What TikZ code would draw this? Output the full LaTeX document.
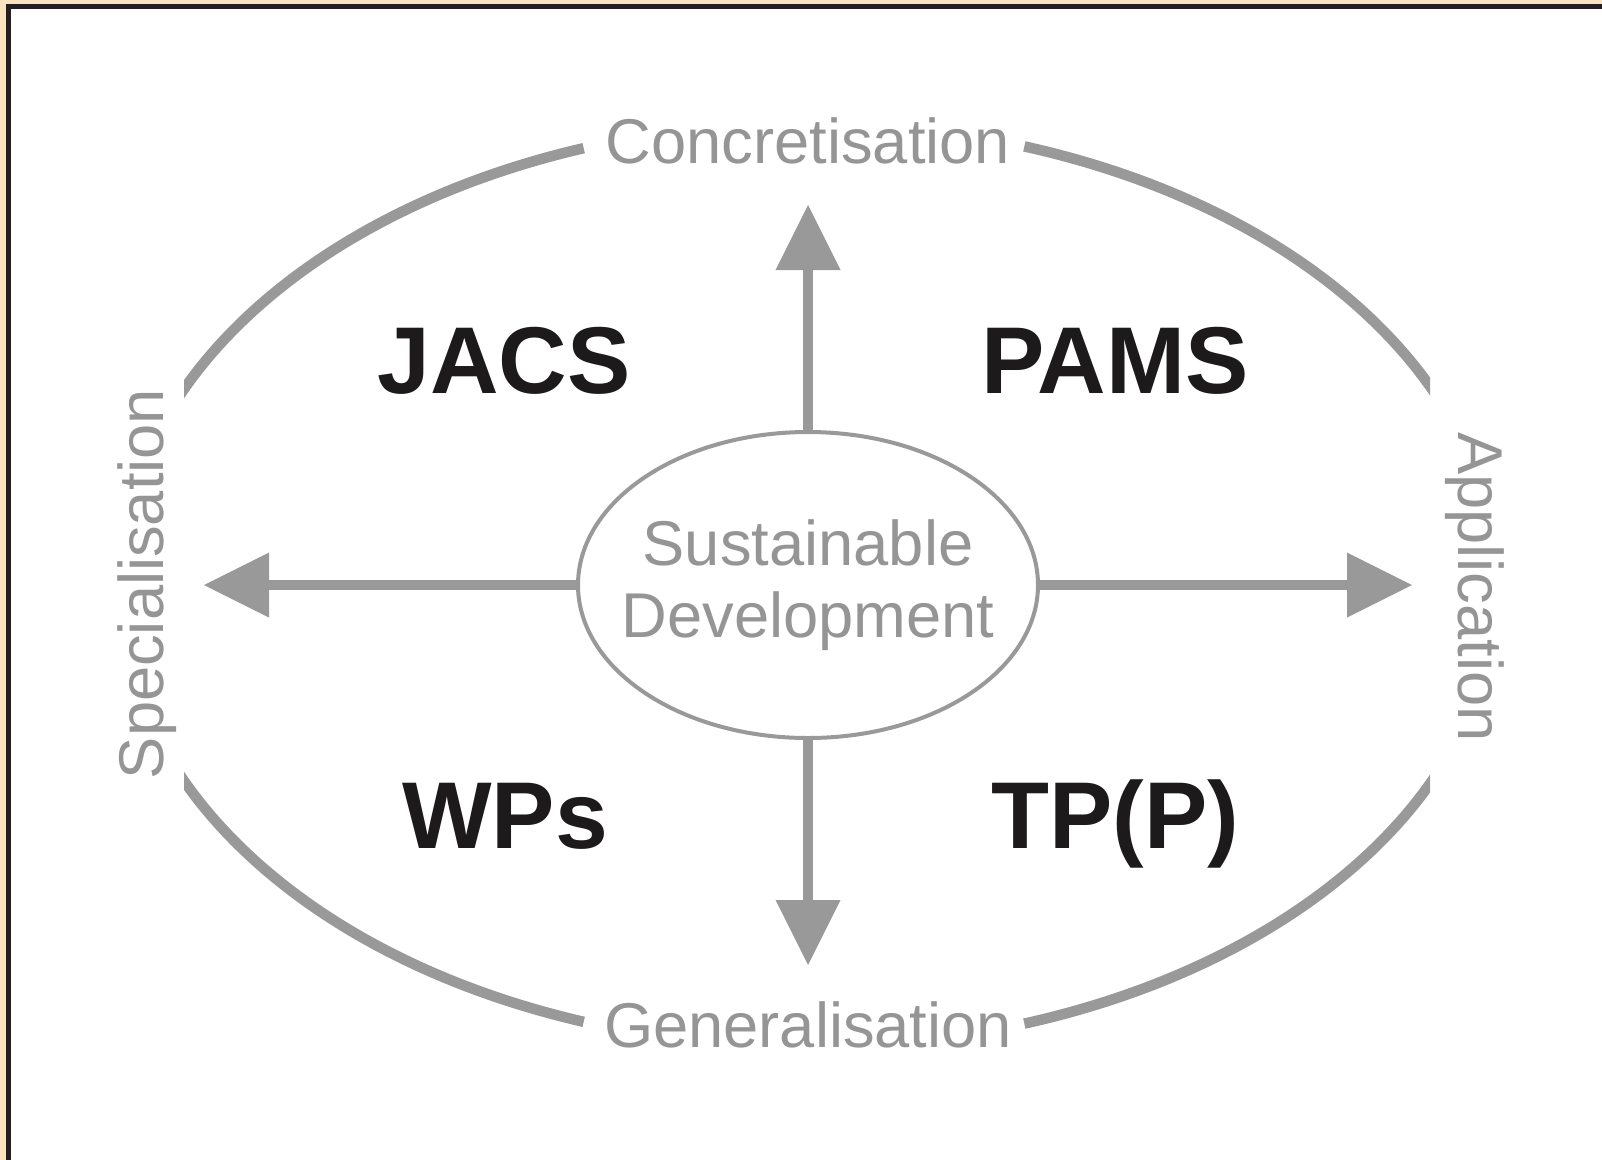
\documentclass[tikz,border=0pt]{standalone}
\usepackage{fontspec}
\setmainfont{Liberation Sans}
\usepackage{xcolor}
\usetikzlibrary{shapes.geometric, arrows.meta}
\usetikzlibrary{positioning}
\definecolor{paper}{HTML}{F9E3C1}
\definecolor{frameline}{HTML}{231F20}
\definecolor{axisgray}{HTML}{999999}
\definecolor{textgray}{HTML}{959595}
\definecolor{inkblack}{HTML}{1C1A1A}
\tikzstyle{hub} = [ellipse, draw=axisgray, line width=0.8mm, minimum width=92mm, minimum height=61.2mm, inner sep=0pt]
\tikzstyle{axis} = [draw=axisgray, line width=2mm, -{Triangle[length=13mm, width=13mm, line width=0pt]}]
\tikzstyle{rim} = [draw=axisgray, line width=2.1mm]
\tikzstyle{quad} = [font=\fontsize{54}{60}\selectfont\bfseries, text=inkblack, inner sep=0pt, anchor=base]
\tikzstyle{pole} = [font=\fontsize{36}{40}\selectfont, text=textgray, inner sep=0pt, anchor=base]

\begin{document}
\begin{tikzpicture}[x=0.2mm, y=-0.2mm]
      \useasboundingbox (0,0) rectangle (1602,1160);
      % frame
      \fill[paper] (0,0) rectangle (1602,1160);
      \fill[frameline] (6,4) rectangle (1602,1160);
      \fill[white] (11,9) rectangle (1602,1160);

      % outer ring, open at the four labels
      \coordinate (ring) at (808,585);
      \begin{scope}
        \clip (184,0) rectangle (1430,1160);
        \draw [rim] (ring) ++(109:689 and 462) arc[start angle=109, end angle=251, x radius=689, y radius=462];
        \draw [rim] (ring) ++(-71.7:689 and 462) arc[start angle=-71.7, end angle=71.7, x radius=689, y radius=462];
      \end{scope}

      \node (sd) [hub] at (808,585) {};
      \node (sdtext) [align=center, font=\fontsize{36}{40.7}\selectfont, text=textgray] at (sd.center) {Sustainable\\Development};

      \coordinate (tipup) at (808,205);
      \coordinate (tipdown) at (808,965);
      \coordinate (tipleft) at (204,585);
      \coordinate (tipright) at (1412,585);
      \draw [axis] (sd.north) -- (tipup);
      \draw [axis] (sd.south) -- (tipdown);
      \draw [axis] (sd.west) -- (tipleft);
      \draw [axis] (sd.east) -- (tipright);

      \node (concr) [pole] at (808,163) {Concretisation};
      \node (gener) [pole] at (808,1047) {Generalisation};
      \node (spec) [pole, rotate=90] at (163,584) {Specialisation};
      \node (appl) [pole, rotate=-90] at (1458,587) {Application};

      \node (jacs) [quad] at (504,393) {JACS};
      \node (pams) [quad] at (1115,393) {PAMS};
      \node (wps) [quad] at (505,848) {WPs};
      \node (tpp) [quad] at (1115,848) {TP(P)};
    \end{tikzpicture}
\end{document}
